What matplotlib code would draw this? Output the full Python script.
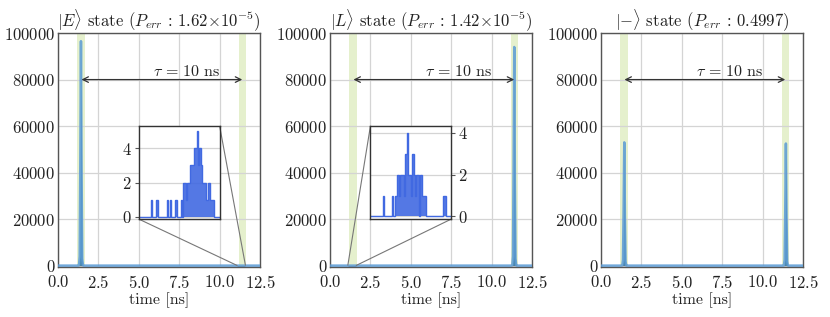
import numpy as np
import matplotlib
matplotlib.use('Agg')
import matplotlib.pyplot as plt
from mpl_toolkits.axes_grid1.inset_locator import mark_inset

plt.rcParams['font.family'] = 'serif'
plt.rcParams['font.serif'] = ['cmr10']
plt.rcParams['mathtext.fontset'] = 'cm'
plt.rcParams['axes.formatter.use_mathtext'] = True

# ---- data ----
# main histograms (time [ns], counts)
t_E = [0.0, 1.26, 1.30, 1.34, 1.38, 1.42, 1.46, 1.50, 1.54, 1.58, 12.5]
c_E = [0, 0, 300, 4000, 45000, 96500, 38000, 3000, 200, 0, 0]

t_L = [0.0, 11.24, 11.28, 11.32, 11.36, 11.40, 11.44, 11.48, 11.52, 11.56, 12.5]
c_L = [0, 0, 300, 4000, 42000, 94000, 36000, 3000, 200, 0, 0]

t_M = [0.0, 1.28, 1.32, 1.36, 1.40, 1.44, 1.48, 1.52, 1.56, 1.60,
       11.28, 11.32, 11.36, 11.40, 11.44, 11.48, 11.52, 11.56, 11.60, 12.5]
c_M = [0, 0, 200, 2500, 24000, 53000, 21000, 1800, 100, 0,
       0, 200, 2500, 23500, 52500, 20500, 1800, 100, 0, 0]

# inset histograms (counts in 60 bins over the zoomed window)
zoom_E = (11.1, 11.6)
ins_E = [0, 0, 0, 0, 0, 0, 0, 0, 0, 1, 0, 0, 0, 1, 0, 0, 0, 0, 0, 0,
         0, 1, 0, 1, 0, 0, 0, 1, 0, 0, 0, 1, 0, 2, 2, 1, 2, 2, 3, 3,
         3, 4, 4, 5, 3, 4, 3, 2, 2, 2, 1, 2, 2, 1, 1, 1, 0, 0, 0, 0]
zoom_L = (1.1, 1.6)
ins_L = [0, 0, 0, 0, 0, 0, 0, 0, 0, 1, 0, 0, 0, 0, 0, 0, 1, 0, 1, 1,
         2, 1, 2, 2, 2, 1, 3, 4, 2, 2, 1, 3, 2, 1, 2, 2, 0, 2, 1, 1,
         1, 0, 0, 0, 0, 0, 0, 0, 0, 0, 0, 0, 0, 0, 1, 1, 0, 0, 0, 0]

titles = [r'$|E\rangle$ state $(P_{err}\,:\,1.62{\times}10^{-5})$',
          r'$|L\rangle$ state $(P_{err}\,:\,1.42{\times}10^{-5})$',
          r'$|{-}\rangle$ state $(P_{err}\,:\,0.4997)$']

windows = [(1.2, 1.65), (11.2, 11.65)]

fig = plt.figure(figsize=(8.3, 3.17), dpi=100)
lefts = [0.0699, 0.3976, 0.7241]
axes = [fig.add_axes([l, 0.1577, 0.2434, 0.738]) for l in lefts]

fill_col = '#2f73a0'
line_col = '#5b9bd5'
spine_col = '#555555'
txt_col = '#222222'

for ax, t, c, title in zip(axes, [t_E, t_L, t_M], [c_E, c_L, c_M], titles):
    for w in windows:
        ax.axvspan(w[0], w[1], color='#e3efc8', alpha=0.9, lw=0, zorder=0)
    ax.fill_between(t, c, color=fill_col, alpha=0.85, lw=0, zorder=2)
    ax.plot(t, c, color=line_col, lw=1.8, alpha=0.85, zorder=3)
    ax.annotate('', xy=(1.45, 80000), xytext=(11.4, 80000),
                arrowprops=dict(arrowstyle='<->', color='#333333', lw=0.9,
                                shrinkA=0, shrinkB=0))
    ax.text(7.95, 83500, r'$\tau\,=\,10$ ns', ha='center', va='center',
            fontsize=11.5, color=txt_col)
    ax.set_xlim(0, 12.5)
    ax.set_ylim(-600, 100000)
    ax.set_xticks(np.arange(0, 12.6, 2.5))
    ax.set_yticks(np.arange(0, 100001, 20000))
    ax.grid(True, color='#d4d4d4', lw=0.9, zorder=1)
    ax.set_axisbelow(True)
    ax.tick_params(length=0, labelsize=12, labelcolor=txt_col)
    ax.tick_params(axis='x', pad=5)
    ax.tick_params(axis='y', pad=2)
    for s in ax.spines.values():
        s.set_color(spine_col)
        s.set_linewidth(1.0)
    ax.set_title(title, fontsize=12, color=txt_col, pad=3)
    ax.set_xlabel('time [ns]', fontsize=11.5, color=txt_col, labelpad=1)

# insets
ins_specs = [(axes[0], [5.0, 20000, 5.0, 40000], zoom_E, ins_E, 5.3, 'left', 3, 1),
             (axes[1], [2.5, 20000, 5.0, 40000], zoom_L, ins_L, 4.33, 'right', 2, 4)]
for ax, bounds, zr, counts, ytop, side, l1, l2 in ins_specs:
    axin = ax.inset_axes(bounds, transform=ax.transData)
    edges = np.linspace(zr[0], zr[1], len(counts) + 1)
    axin.stairs(counts, edges, fill=True, color='#4169e1', alpha=0.9)
    axin.stairs(counts, edges, color='#4169e1', lw=1.0)
    axin.set_xlim(zr[0], zr[1])
    axin.set_ylim(-0.13, ytop)
    axin.set_xticks([])
    axin.set_yticks([0, 2, 4])
    axin.grid(True, axis='y', color='#d4d4d4', lw=0.9)
    axin.set_axisbelow(True)
    if side == 'right':
        axin.yaxis.tick_right()
    axin.tick_params(length=3, width=0.8, color=spine_col, labelsize=12,
                     labelcolor=txt_col, pad=2)
    for s in axin.spines.values():
        s.set_color('#333333')
        s.set_linewidth(1.0)
    mark_inset(ax, axin, loc1=l1, loc2=l2, fc='none', ec='#777777', lw=0.8)

fig.savefig('out.png', dpi=100)
